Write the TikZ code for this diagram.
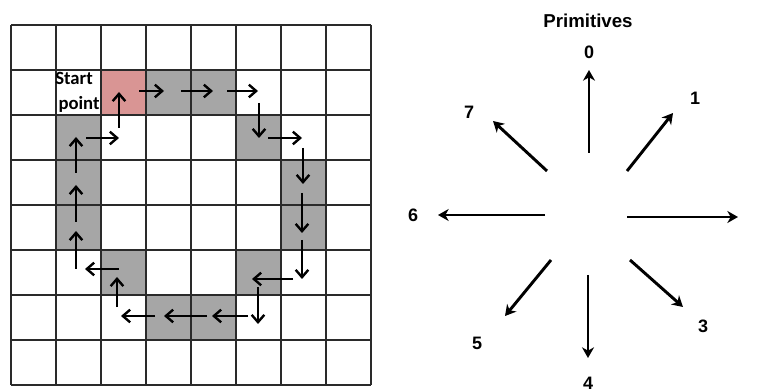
\documentclass[tikz,border=0pt]{standalone}
\usepackage{fontspec}
\setmainfont{Liberation Sans}
\newfontfamily\calfont{Carlito}
\usetikzlibrary{arrows.meta}
\definecolor{pinkcell}{HTML}{D99594}
\definecolor{graycell}{HTML}{A6A6A6}
\definecolor{gridline}{HTML}{2A2A2A}
\tikzset{
  pinkbox/.style={fill=pinkcell},
  graybox/.style={fill=graycell},
  patharrow/.style={line width=2pt,-{Straight Barb[length=5.5pt,width=9.5pt,line width=1.8pt]}},
  primarrow/.style={line width=2.2pt,-{Stealth[length=8pt,width=9pt,inset=2.5pt]}},
  primlabel/.style={font=\fontsize{13.5}{15}\selectfont\bfseries,inner sep=0pt},
  startlabel/.style={font=\calfont\fontsize{14}{16}\selectfont\bfseries,inner sep=0pt},
}
\begin{document}
\begin{tikzpicture}[x=0.75pt,y=-0.75pt]
\useasboundingbox (0,0) rectangle (759,391);
% cells (col,row) -> x=11+45*col, y=25+45*row
\fill[pinkbox] (101,70) rectangle (146,115);
\foreach \c/\r in {3/1,4/1,1/2,5/2,1/3,6/3,1/4,6/4,2/5,5/5,3/6,4/6}{
  \fill[graybox] ({11+45*\c},{25+45*\r}) rectangle ({56+45*\c},{70+45*\r});
}
\foreach \i in {0,...,8}{
  \draw[gridline,line width=1.2pt] ({11+45*\i},25) -- ({11+45*\i},385);
  \draw[gridline,line width=1.2pt] (11,{25+45*\i}) -- (371,{25+45*\i});
}
\node[startlabel] (startA) at (74,78) {Start};
\node[startlabel] (startB) at (79,104) {point};
% path arrows
\draw[patharrow] (119,128) -- (119,92);
\draw[patharrow] (139,91) -- (164,91);
\draw[patharrow] (181,91) -- (213,91);
\draw[patharrow] (227,91) -- (258,91);
\draw[patharrow] (259,103) -- (259,138);
\draw[patharrow] (268,138) -- (302,138);
\draw[patharrow] (303,148) -- (303,184);
\draw[patharrow] (302,193) -- (302,233);
\draw[patharrow] (302,240) -- (302,279);
\draw[patharrow] (293,279) -- (252,279);
\draw[patharrow] (258,287) -- (258,324);
\draw[patharrow] (248,316) -- (212,316);
\draw[patharrow] (207,316) -- (164,316);
\draw[patharrow] (155,316) -- (121,316);
\draw[patharrow] (117,307) -- (117,277);
\draw[patharrow] (119,269) -- (85,269);
\draw[patharrow] (76,269) -- (76,231);
\draw[patharrow] (76,222) -- (76,185);
\draw[patharrow] (76,173) -- (76,137);
\draw[patharrow] (86,138) -- (119,138);
% primitives
\node[font=\fontsize{14}{16}\selectfont\bfseries,inner sep=0pt] (title) at (588,21) {Primitives};
\node[primlabel] (l0) at (589,52) {0};
\node[primlabel] (l1) at (695,98) {1};
\node[primlabel] (l2) at (764,216) {2};
\node[primlabel] (l3) at (703,326) {3};
\node[primlabel] (l4) at (588,383) {4};
\node[primlabel] (l5) at (477,343) {5};
\node[primlabel] (l6) at (413,215) {6};
\node[primlabel] (l7) at (469,112) {7};
\coordinate (s0) at (589,153); \coordinate (e0) at (589,70);
\coordinate (s1) at (627,171); \coordinate (e1) at (673,113);
\coordinate (s2) at (627,217); \coordinate (e2) at (738,217);
\coordinate (s3) at (630,260); \coordinate (e3) at (683,307);
\coordinate (s4) at (588,275); \coordinate (e4) at (588,358);
\coordinate (s5) at (551,260); \coordinate (e5) at (505,316);
\coordinate (s6) at (545,215); \coordinate (e6) at (438,215);
\coordinate (s7) at (547,171); \coordinate (e7) at (493,121);
\foreach \k in {0,...,7}{ \draw[primarrow] (s\k) -- (e\k); }
\end{tikzpicture}
\end{document}
